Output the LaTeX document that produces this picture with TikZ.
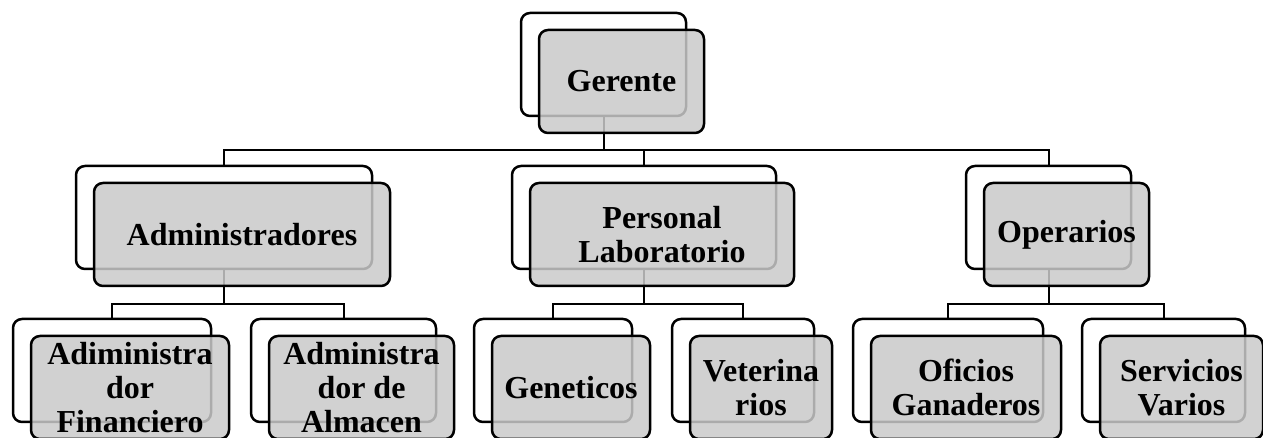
\documentclass[tikz,border=0pt]{standalone}
\usepackage{fontspec}
\setmainfont{Liberation Serif}
\begin{document}
\begin{tikzpicture}[x=1pt,y=1pt,
  backbox/.style={draw, line width=2.5pt, rounded corners=9pt, fill=white, minimum height=103pt, inner sep=0pt},
  frontbox/.style={draw, line width=2.5pt, rounded corners=9pt, fill={rgb,255:red,202;green,202;blue,202}, fill opacity=0.85, text opacity=1, minimum height=103pt, inner sep=0pt, align=center, font=\fontsize{32}{34}\selectfont\bfseries},
  conn/.style={line width=2pt}]
\useasboundingbox (0,0) rectangle (1263,438);
% back boxes
\node[backbox, minimum width=165pt] (gb) at (603.5,373.5) {};
\node[backbox, minimum width=296pt] (ab) at (224,220.5) {};
\node[backbox, minimum width=264pt] (pb) at (644,220.5) {};
\node[backbox, minimum width=165pt] (ob) at (1048.5,220.5) {};
\node[backbox, minimum width=198pt] (afb) at (112,67.5) {};
\node[backbox, minimum width=185pt] (aab) at (343.5,67.5) {};
\node[backbox, minimum width=158pt] (geb) at (553,67.5) {};
\node[backbox, minimum width=142pt] (veb) at (743,67.5) {};
\node[backbox, minimum width=190pt] (ofb) at (948,67.5) {};
\node[backbox, minimum width=163pt] (svb) at (1163.5,67.5) {};
% connectors
\coordinate (t1) at (603.5,288);
\draw[conn] (gb.south) -- (t1);
\draw[conn] (ab.north) |- (t1) -| (ob.north);
\draw[conn] (t1) -| (pb.north);
\coordinate (t2) at (224,134);
\draw[conn] (ab.south) -- (t2);
\draw[conn] (afb.north) |- (t2) -| (aab.north);
\coordinate (t3) at (644,134);
\draw[conn] (pb.south) -- (t3);
\draw[conn] (geb.north) |- (t3) -| (veb.north);
\coordinate (t4) at (1048.5,134);
\draw[conn] (ob.south) -- (t4);
\draw[conn] (ofb.north) |- (t4) -| (svb.north);
% front boxes
\node[frontbox, minimum width=165pt] (g) at ([shift={(18,-17)}]gb.center) {Gerente};
\node[frontbox, minimum width=296pt] (a) at ([shift={(18,-17)}]ab.center) {Administradores};
\node[frontbox, minimum width=264pt] (p) at ([shift={(18,-17)}]pb.center) {Personal\\Laboratorio};
\node[frontbox, minimum width=165pt] (o) at ([shift={(18,-17)}]ob.center) {Operarios};
\node[frontbox, minimum width=198pt] (af) at ([shift={(18,-17)}]afb.center) {Adiministra\\dor\\Financiero};
\node[frontbox, minimum width=185pt] (aa) at ([shift={(18,-17)}]aab.center) {Administra\\dor de\\Almacen};
\node[frontbox, minimum width=158pt] (ge) at ([shift={(18,-17)}]geb.center) {Geneticos};
\node[frontbox, minimum width=142pt] (ve) at ([shift={(18,-17)}]veb.center) {Veterina\\rios};
\node[frontbox, minimum width=190pt] (of) at ([shift={(18,-17)}]ofb.center) {Oficios\\Ganaderos};
\node[frontbox, minimum width=163pt] (sv) at ([shift={(18,-17)}]svb.center) {Servicios\\Varios};
\end{tikzpicture}
\end{document}
